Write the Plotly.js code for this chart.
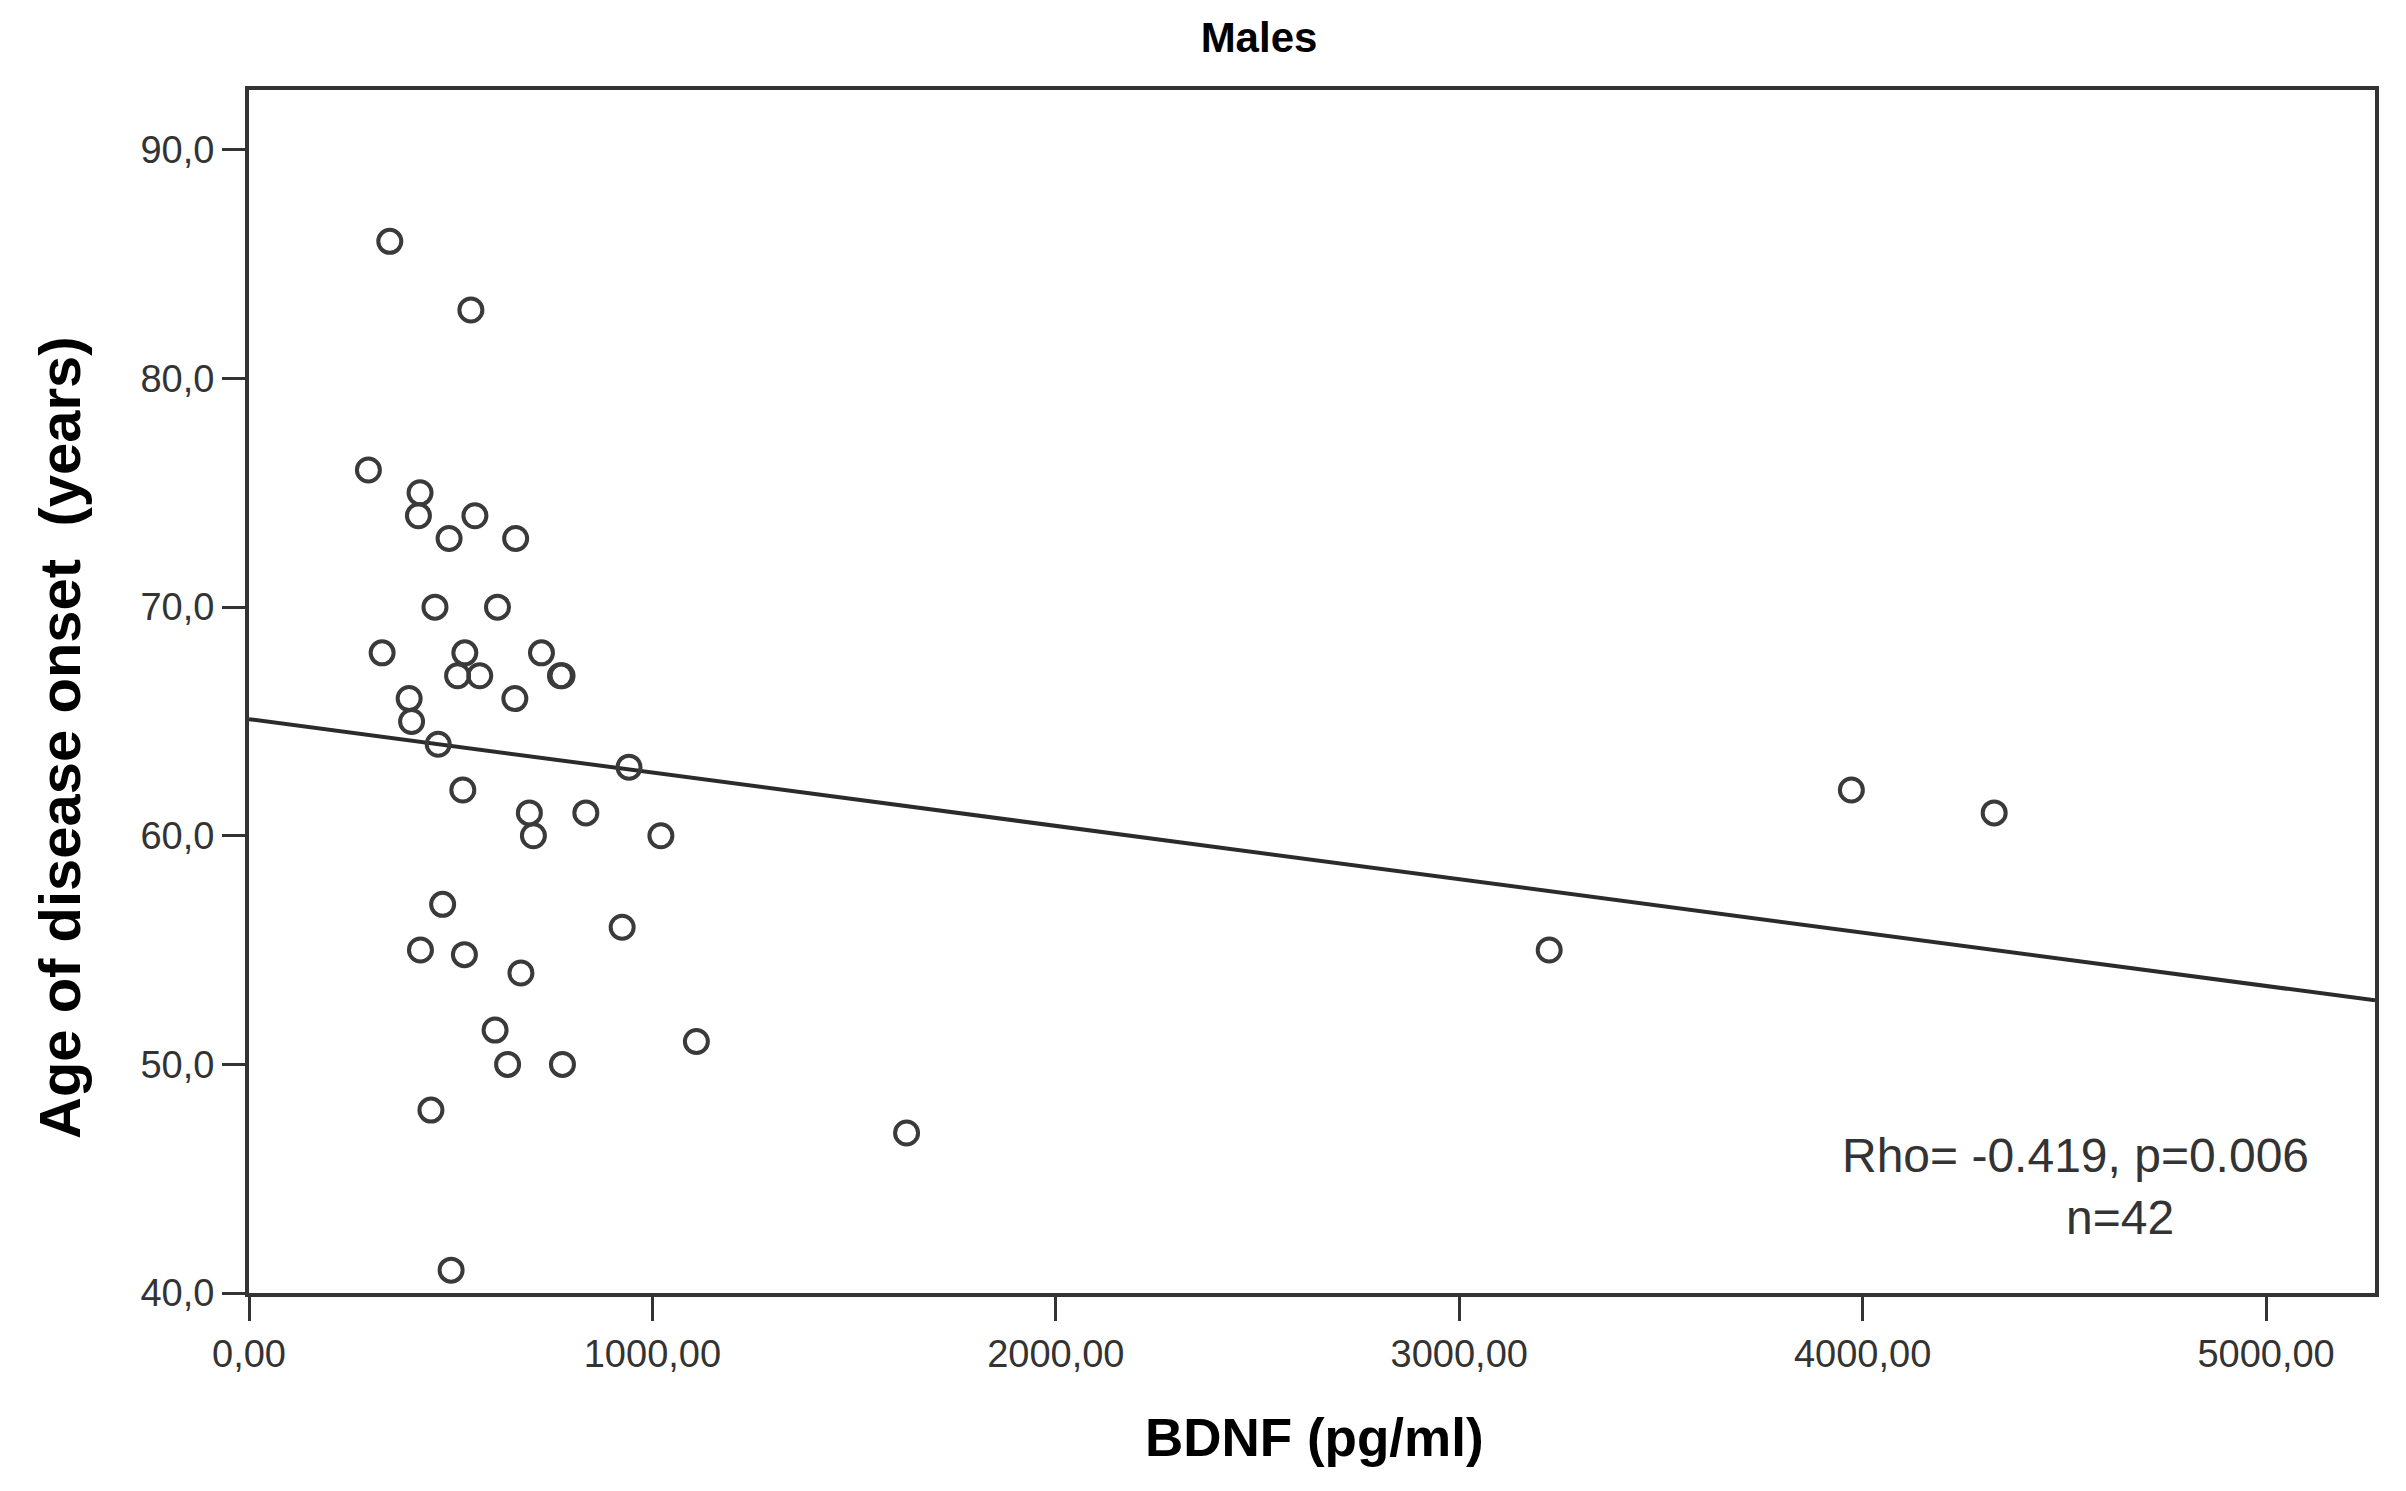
<!DOCTYPE html>
<html>
<head>
<meta charset="utf-8">
<script src="https://cdn.plot.ly/plotly-3.0.1.min.js"></script>
<style>
html, body { margin: 0; padding: 0; background: #ffffff; }
#chart { width: 2406px; height: 1491px; }
</style>
</head>
<body>
<div id="chart"></div>
<script>
// BDNF (pg/ml) and age of disease onset (years)
const bdnf = [349, 550, 296, 424, 420, 560, 496, 661, 461, 616,
              330, 535, 725, 517, 572, 772, 776, 397, 659, 403,
              469, 942, 530, 695, 835, 705, 1021, 480, 925, 425,
              534, 674, 610, 1109, 641, 777, 451, 501, 1630, 3223,
              3972, 4326];
const age  = [86, 83, 76, 75, 74, 74, 73, 73, 70, 70,
              68, 68, 68, 67, 67, 67, 67, 66, 66, 65,
              64, 63, 62, 61, 61, 60, 60, 57, 56, 55,
              54.8, 54, 51.5, 51, 50, 50, 48, 41, 47, 55,
              62, 61];

// fitted line end points
const fitX = [0, 5270];
const fitY = [65.1, 52.8];

// tick labels
const xTickVals = [0, 1000, 2000, 3000, 4000, 5000];
const xTickText = ["0,00", "1000,00", "2000,00", "3000,00", "4000,00", "5000,00"];
const yTickVals = [40, 50, 60, 70, 80, 90];
const yTickText = ["40,0", "50,0", "60,0", "70,0", "80,0", "90,0"];

const chartTitle = "Males";
const xTitle = "BDNF (pg/ml)";
const yTitle = "Age of disease onset  (years)";
const statLine1 = "Rho= -0.419, p=0.006";
const statLine2 = "n=42";

const axisColor = "#333333";
const tickFont = { family: "Liberation Sans, Arial, sans-serif", size: 38, color: "#333333" };

const traces = [
  {
    type: "scatter",
    mode: "lines",
    x: fitX,
    y: fitY,
    line: { color: "#2b2b2b", width: 4 },
    hoverinfo: "skip",
    showlegend: false
  },
  {
    type: "scatter",
    mode: "markers",
    x: bdnf,
    y: age,
    marker: {
      symbol: "circle-open",
      size: 23,
      color: "#3a3a3a",
      line: { color: "#3a3a3a", width: 4 }
    },
    showlegend: false
  }
];

const layout = {
  width: 2406,
  height: 1491,
  margin: { l: 249, r: 31, t: 90, b: 198, pad: 0 },
  paper_bgcolor: "#ffffff",
  plot_bgcolor: "#ffffff",
  showlegend: false,
  title: {
    text: "<b>" + chartTitle + "</b>",
    font: { family: "Liberation Sans, Arial, sans-serif", size: 42, color: "#000000" },
    x: 1259 / 2406,
    xanchor: "center",
    xref: "container",
    y: 1 - 37 / 1491,
    yanchor: "middle",
    yref: "container"
  },
  xaxis: {
    range: [0, 5270],
    tickmode: "array",
    tickvals: xTickVals,
    ticktext: xTickText,
    ticks: "outside",
    ticklen: 24,
    tickwidth: 3,
    tickcolor: axisColor,
    tickfont: tickFont,
    showline: true,
    linecolor: axisColor,
    linewidth: 4,
    mirror: true,
    showgrid: false,
    zeroline: false
  },
  yaxis: {
    range: [40, 92.62],
    tickmode: "array",
    tickvals: yTickVals,
    ticktext: yTickText,
    ticks: "outside",
    ticklen: 23,
    tickwidth: 3,
    tickcolor: axisColor,
    tickfont: tickFont,
    showline: true,
    linecolor: axisColor,
    linewidth: 4,
    mirror: true,
    showgrid: false,
    zeroline: false
  },
  annotations: [
    {
      text: "<b>" + yTitle + "</b>",
      xref: "paper", yref: "paper",
      x: (59 - 249) / 2126, y: (1293 - 738) / 1203,
      xanchor: "center", yanchor: "middle",
      textangle: -90,
      showarrow: false,
      font: { family: "Liberation Sans, Arial, sans-serif", size: 58, color: "#000000" }
    },
    {
      text: "<b>" + xTitle + "</b>",
      xref: "paper", yref: "paper",
      x: (1314 - 249) / 2126, y: (1293 - 1437) / 1203,
      xanchor: "center", yanchor: "middle",
      showarrow: false,
      font: { family: "Liberation Sans, Arial, sans-serif", size: 53, color: "#000000" }
    },
    {
      text: statLine1,
      xref: "paper", yref: "paper",
      x: (2075 - 249) / 2126, y: (1293 - 1155) / 1203,
      xanchor: "center", yanchor: "middle",
      showarrow: false,
      font: { family: "Liberation Sans, Arial, sans-serif", size: 48, color: "#333333" }
    },
    {
      text: statLine2,
      xref: "paper", yref: "paper",
      x: (2120 - 249) / 2126, y: (1293 - 1217) / 1203,
      xanchor: "center", yanchor: "middle",
      showarrow: false,
      font: { family: "Liberation Sans, Arial, sans-serif", size: 48, color: "#333333" }
    }
  ]
};

Plotly.newPlot("chart", traces, layout, { displayModeBar: false, staticPlot: true });
</script>
</body>
</html>
